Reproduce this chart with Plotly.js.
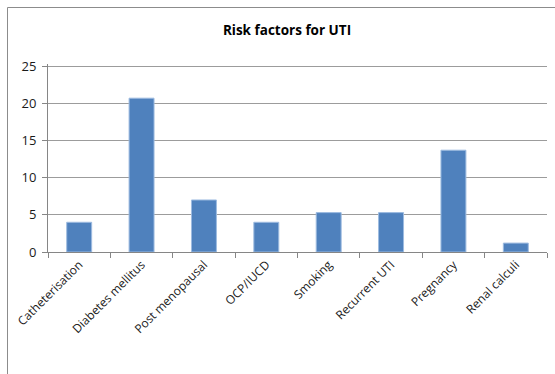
<!DOCTYPE html>
<html>
<head>
<meta charset="utf-8">
<script src="https://cdn.plot.ly/plotly-3.0.1.min.js"></script>
<style>html,body{margin:0;padding:0;background:#fff;}#chart{width:555px;height:374px;}</style>
</head>
<body>
<div id="chart"></div>
<script>
const categories = ["Catheterisation", "Diabetes mellitus", "Post menopausal", "OCP/IUCD", "Smoking", "Recurrent UTI", "Pregnancy", "Renal calculi"];
const values = [4.0, 20.7, 7.0, 4.0, 5.3, 5.3, 13.7, 1.2];
const yTicks = [0, 5, 10, 15, 20, 25];

const W = 555, H = 374;
const m = {l: 48, r: 8, t: 64, b: 122};
const pw = W - m.l - m.r, ph = H - m.t - m.b;
const py = p => (H - m.b - p) / ph;
const px = p => (p - m.l) / pw;

const trace = {
  type: "bar",
  x: categories,
  y: values,
  marker: {color: "#4f81bd", line: {color: "#9dbbe0", width: 1}},
  hoverinfo: "x+y"
};

const layout = {
  width: W, height: H,
  margin: m,
  paper_bgcolor: "#fff", plot_bgcolor: "#fff",
  font: {family: "Open Sans, sans-serif", size: 12, color: "#1a1a1a"},
  showlegend: false,
  bargap: 0.6,
  title: {
    text: "<b>Risk factors for UTI</b>",
    font: {family: "Open Sans, sans-serif", size: 13.5, color: "#000"},
    x: 287 / W, xref: "container", xanchor: "center",
    y: 1 - 30 / H, yref: "container", yanchor: "middle"
  },
  xaxis: {
    type: "category",
    tickangle: -45,
    tickson: "boundaries",
    ticks: "outside", ticklen: 5, tickcolor: "#868686",
    showline: true, linecolor: "#868686", linewidth: 1,
    showgrid: false,
    tickfont: {family: "Open Sans, sans-serif", size: 12, color: "#1a1a1a"},
    fixedrange: true
  },
  yaxis: {
    range: [0, 25.3],
    tickvals: yTicks,
    ticktext: yTicks.map(String),
    ticks: "outside", ticklen: 5, tickcolor: "#868686",
    ticklabelstandoff: 3,
    showline: true, linecolor: "#868686", linewidth: 1,
    showgrid: true, gridcolor: "#9c9c9c", gridwidth: 1,
    zeroline: false,
    tickfont: {family: "Open Sans, sans-serif", size: 13, color: "#1a1a1a"},
    fixedrange: true
  },
  shapes: [
    {type: "line", xref: "paper", yref: "paper",
     x0: px(7.5), x1: px(W + 5),
     y0: py(7.5), y1: py(7.5),
     line: {color: "#8c8c8c", width: 1}},
    {type: "line", xref: "paper", yref: "paper",
     x0: px(7.5), x1: px(7.5),
     y0: py(7.5), y1: py(H + 5),
     line: {color: "#8c8c8c", width: 1}}
  ]
};

Plotly.newPlot("chart", [trace], layout, {displayModeBar: false, staticPlot: true});
</script>
</body>
</html>
